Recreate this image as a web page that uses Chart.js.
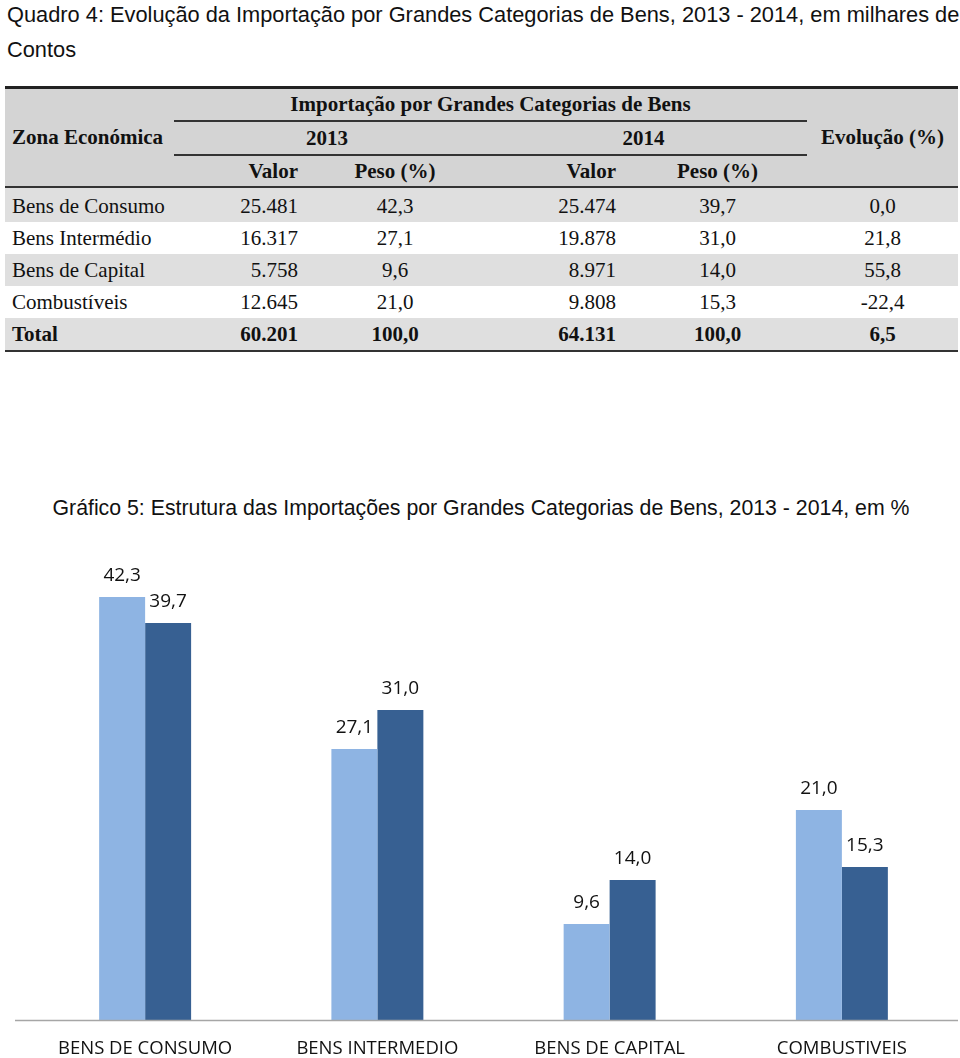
<!DOCTYPE html>
<html lang="pt">
<head>
<meta charset="utf-8">
<title>Importação por Grandes Categorias de Bens</title>
<script src="https://cdn.jsdelivr.net/npm/chart.js@4.4.1/dist/chart.umd.min.js"></script>
<style>
    body { margin: 0; background: #fff; width: 960px; height: 1058px; position: relative; overflow: hidden; }
    #titulo { position: absolute; left: 7px; top: -3px; font: 21.8px 'Liberation Sans', Arial, sans-serif; line-height: 35px; color: #111; white-space: nowrap; }
    #quadro { position: absolute; left: 5px; top: 86px; width: 953px; border-collapse: collapse; table-layout: fixed;
              font: 21px 'Liberation Serif', 'Times New Roman', serif; color: #111; border-top: 3px solid #222; }
    #quadro th, #quadro td { padding: 0; white-space: nowrap; }
    #quadro thead th { background: #d4d4d4; font-weight: bold; }
    #quadro thead tr.h1 th { height: 31px; }
    #quadro thead tr.h2 th { height: 32px; }
    #quadro thead tr.h3 th { height: 30px; border-bottom: 2px solid #333; }
    #quadro .linha { border-bottom: 2px solid #333; }
    #quadro .zona { text-align: left; padding-left: 7px; border-bottom: 2px solid #333; }
    #quadro .evol { text-align: center; border-bottom: 2px solid #333; }
    #quadro tbody td { height: 32px; }
    #quadro tbody tr:first-child td { height: 32px; padding-top: 2px; }
    #quadro tbody tr.cinza td { background: #dfdfdf; }
    #quadro tbody tr.total td { font-weight: bold; border-bottom: 2px solid #333; }
    #quadro .nome { text-align: left; padding-left: 7px; }
    #quadro .valor { text-align: right; padding-right: 12px; }
    #quadro .peso { text-align: center; }
    #grafTitulo { position: absolute; left: 0; top: 496px; width: 962px; text-align: center;
                  font: 21.3px 'Liberation Sans', Arial, sans-serif; color: #111; white-space: nowrap; }
    #wrap { position: absolute; left: 0; top: 540px; width: 960px; height: 518px; }
</style>
</head>
<body>
<div id="titulo">Quadro 4: Evolução da Importação por Grandes Categorias de Bens, 2013 - 2014, em milhares de<br>Contos</div>

<table id="quadro">
    <colgroup>
        <col style="width:169px"><col style="width:136px"><col style="width:170px">
        <col style="width:148px"><col style="width:179px"><col style="width:151px">
    </colgroup>
    <thead>
        <tr class="h1">
            <th rowspan="3" class="zona">Zona Económica</th>
            <th colspan="4" class="linha">Importação por Grandes Categorias de Bens</th>
            <th rowspan="3" class="evol">Evolução (%)</th>
        </tr>
        <tr class="h2">
            <th colspan="2" class="linha">2013</th>
            <th colspan="2" class="linha">2014</th>
        </tr>
        <tr class="h3">
            <th class="valor">Valor</th><th class="peso">Peso (%)</th>
            <th class="valor">Valor</th><th class="peso">Peso (%)</th>
        </tr>
    </thead>
    <tbody id="corpo"></tbody>
</table>

<div id="grafTitulo">Gráfico 5: Estrutura das Importações por Grandes Categorias de Bens, 2013 - 2014, em %</div>
<div id="wrap"><canvas id="grafico"></canvas></div>

<script>
// dados do quadro
const categorias = ['Bens de Consumo', 'Bens Intermédio', 'Bens de Capital', 'Combustíveis'];
const valor2013 = [25481, 16317, 5758, 12645];
const peso2013 = [42.3, 27.1, 9.6, 21.0];
const valor2014 = [25474, 19878, 8971, 9808];
const peso2014 = [39.7, 31.0, 14.0, 15.3];
const evolucao = [0.0, 21.8, 55.8, -22.4];
const total = { valor2013: 60201, peso2013: 100.0, valor2014: 64131, peso2014: 100.0, evolucao: 6.5 };

// rótulos do eixo do gráfico
const rotulosEixo = ['BENS DE CONSUMO', 'BENS INTERMEDIO', 'BENS DE CAPITAL', 'COMBUSTIVEIS'];

const fmtMilhar = n => n.toString().replace(/\B(?=(\d{3})+(?!\d))/g, '.');
const fmtDecimal = v => v.toFixed(1).replace('.', ',');

// Preencher o quadro
const corpo = document.getElementById('corpo');
const linhas = categorias.map((c, i) => [c, valor2013[i], peso2013[i], valor2014[i], peso2014[i], evolucao[i]]);
linhas.push(['Total', total.valor2013, total.peso2013, total.valor2014, total.peso2014, total.evolucao]);

linhas.forEach((l, i) => {
    const tr = document.createElement('tr');
    if (i % 2 === 0) tr.className = 'cinza';
    if (i === linhas.length - 1) tr.className += ' total';
    tr.innerHTML =
        `<td class="nome">${l[0]}</td>` +
        `<td class="valor">${fmtMilhar(l[1])}</td>` +
        `<td class="peso">${fmtDecimal(l[2])}</td>` +
        `<td class="valor">${fmtMilhar(l[3])}</td>` +
        `<td class="peso">${fmtDecimal(l[4])}</td>` +
        `<td class="peso">${fmtDecimal(l[5])}</td>`;
    corpo.appendChild(tr);
});

// Rótulos de valor por cima das barras e linha de base
const rotulosValor = {
    id: 'rotulosValor',
    afterDatasetsDraw(chart) {
        const ctx = chart.ctx;
        const area = chart.chartArea;
        ctx.save();
        ctx.strokeStyle = '#a6a6a6';
        ctx.lineWidth = 1.5;
        ctx.beginPath();
        ctx.moveTo(15, area.bottom + 0.5);
        ctx.lineTo(area.right, area.bottom + 0.5);
        ctx.stroke();

        ctx.font = '19px "Open Sans", sans-serif';
        ctx.fillStyle = '#111';
        ctx.textAlign = 'center';
        ctx.textBaseline = 'middle';
        chart.data.datasets.forEach((ds, i) => {
            chart.getDatasetMeta(i).data.forEach((bar, j) => {
                ctx.fillText(fmtDecimal(ds.data[j]), bar.x, bar.y - 21);
            });
        });
        ctx.restore();
    }
};

const grafico = new Chart(document.getElementById('grafico').getContext('2d'), {
    type: 'bar',
    data: {
        labels: rotulosEixo,
        datasets: [
            { label: '2013', data: peso2013, backgroundColor: '#8EB4E3' },
            { label: '2014', data: peso2014, backgroundColor: '#376092' }
        ]
    },
    options: {
        responsive: true,
        maintainAspectRatio: false,
        animation: false,
        categoryPercentage: 0.396,
        barPercentage: 1.0,
        layout: { padding: { left: 29, right: 2, top: 0, bottom: 0 } },
        plugins: {
            legend: { display: false },
            tooltip: { enabled: false }
        },
        scales: {
            x: {
                grid: { display: false, drawTicks: false },
                border: { display: false },
                ticks: {
                    color: '#111',
                    font: { family: 'Open Sans', size: 18.5 },
                    padding: 18,
                    maxRotation: 0,
                    autoSkip: false
                },
                afterFit: scale => { scale.height = 38; }
            },
            y: {
                display: false,
                min: 0,
                max: 48
            }
        }
    },
    plugins: [rotulosValor]
});
</script>
</body>
</html>
